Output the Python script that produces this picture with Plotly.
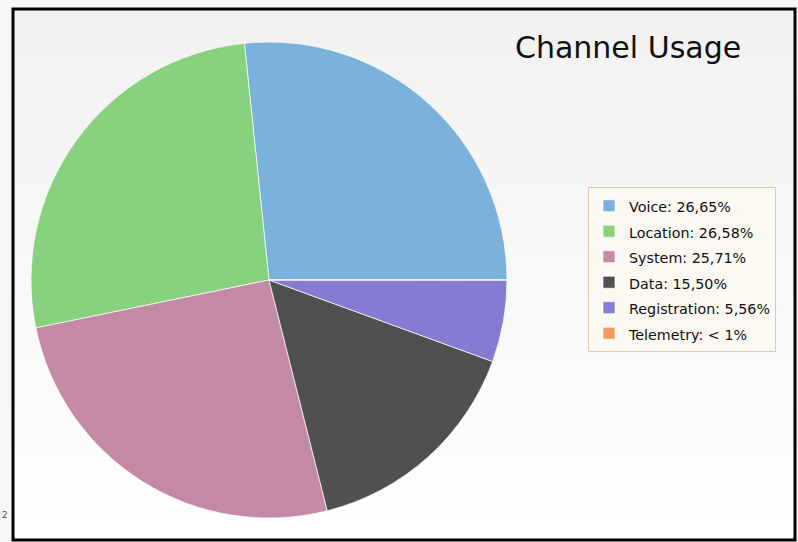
import plotly.graph_objects as go

categories = ["Voice", "Location", "System", "Data", "Registration", "Telemetry"]
values = [26.65, 26.58, 25.71, 15.50, 5.56, 0.004]
legend_labels = ["Voice: 26,65%", "Location: 26,58%", "System: 25,71%",
                 "Data: 15,50%", "Registration: 5,56%", "Telemetry: < 1%"]
colors = ["#7ab2dc", "#88d17f", "#c589a8", "#505050", "#847bd3", "#f79a5c"]

W, H = 798, 542

# first slice starts at 3 o'clock and runs counterclockwise
rot = -(values[0] / sum(values) * 360)

fig = go.Figure()
fig.add_trace(go.Pie(
    labels=[f"<span style='font-size:14.3px'>{lbl}</span>" for lbl in legend_labels],
    values=values,
    sort=False,
    direction="counterclockwise",
    rotation=90 + rot,
    marker=dict(colors=colors, line=dict(color="rgba(255,255,255,0.7)", width=1)),
    textinfo="none",
    hovertext=categories,
    hoverinfo="text+percent",
    domain=dict(x=[31 / W, 507 / W], y=[1 - 518 / H, 1 - 42 / H]),
))

shapes = []
x0, x1, y0, y1 = 13 / W, 795 / W, 1 - 540 / H, 1 - 9 / H
n = 24
for i in range(n):
    t = i / (n - 1)
    c = int(242 + (255 - 242) * t)
    ya = y1 - (y1 - y0) * i / n
    yb = y1 - (y1 - y0) * (i + 1) / n
    shapes.append(dict(type="rect", xref="paper", yref="paper", x0=x0, x1=x1,
                       y0=yb, y1=ya, fillcolor=f"rgb({c},{c},{c})",
                       line=dict(width=0), layer="below"))
shapes.append(dict(type="rect", xref="paper", yref="paper", x0=x0, x1=x1, y0=y0, y1=y1,
                   line=dict(color="black", width=3), fillcolor="rgba(0,0,0,0)", layer="below"))

fig.update_layout(
    width=W, height=H,
    margin=dict(l=0, r=0, t=0, b=0),
    paper_bgcolor="#f7f7f7",
    plot_bgcolor="white",
    shapes=shapes,
    showlegend=True,
    legend=dict(
        x=588 / W, y=1 - 187 / H, xanchor="left", yanchor="top",
        bgcolor="#fcf9f2", bordercolor="#dccaa8", borderwidth=1,
        font=dict(family="DejaVu Sans", size=17.3, color="#111111"),
        itemclick=False,
    ),
    annotations=[
        dict(text="Channel Usage", x=513 / W, y=1 - 47 / H, xref="paper", yref="paper",
             xanchor="left", yanchor="middle", showarrow=False,
             font=dict(family="DejaVu Sans", size=30, color="#111111")),
        dict(text="2", x=0 / W, y=1 - 515 / H, xref="paper", yref="paper",
             xanchor="left", yanchor="middle", showarrow=False,
             font=dict(family="DejaVu Sans", size=9, color="#555555")),
    ],
)

fig.write_html("out.html", config={"displayModeBar": False},
               post_script="document.body.style.margin='0';document.body.style.overflow='hidden';")
